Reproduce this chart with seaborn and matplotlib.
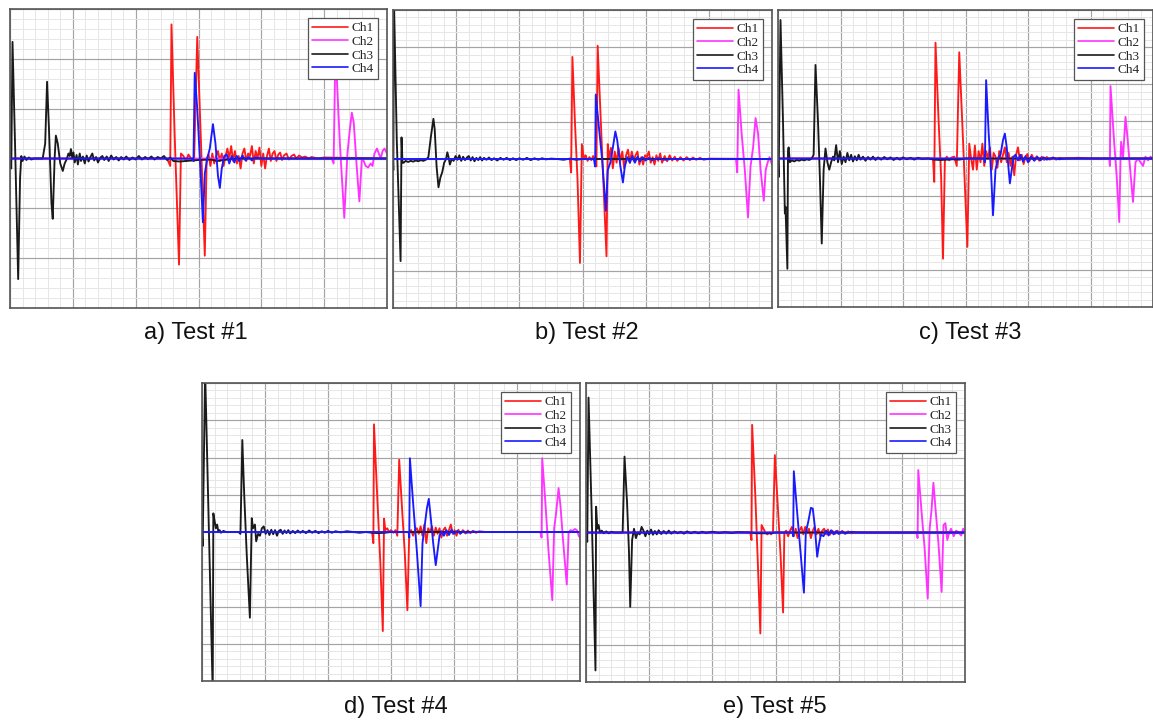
import numpy as np
import pandas as pd
import matplotlib
matplotlib.use("Agg")
import matplotlib.pyplot as plt
from matplotlib.ticker import MultipleLocator
import seaborn as sns

# ---------------------------------------------------------------------------
# Recorded signals, four channels per test.
# Time is in grid divisions (0..6), amplitude in grid divisions.
# ---------------------------------------------------------------------------
CHANNELS = ["Ch1", "Ch2", "Ch3", "Ch4"]
CHANNEL_COLORS = ["#ff1a1a", "#ff33ff", "#1a1a1a", "#1a1aff"]
CAPTIONS = ["a) Test #1", "b) Test #2", "c) Test #3", "d) Test #4", "e) Test #5"]
Y_LIMITS = [3, 4, 4, 4, 4]

# ---- Test 1 ----
T1_CH1 = [(0.0, 0.0), (2.50, 0.0), (2.55, -0.15), (2.57, 2.69), (2.62, 0.5), (2.69, -2.13),
          (2.72, 0.1), (2.76, 0.05), (2.80, -0.05), (2.84, 0.08), (2.88, 0.0), (2.93, -0.05),
          (2.98, 2.44), (3.04, 0.3), (3.10, -1.95), (3.13, 0.0), (3.16, 0.08), (3.19, -0.15),
          (3.22, 0.1), (3.25, -0.1), (3.28, 0.05), (3.31, 0.15), (3.34, -0.05), (3.37, 0.1),
          (3.40, -0.15), (3.43, 0.05), (3.46, 0.2), (3.49, 0.0), (3.52, 0.25), (3.55, -0.05),
          (3.58, 0.15), (3.61, -0.1), (3.64, 0.05), (3.67, -0.2), (3.70, 0.1), (3.73, 0.2),
          (3.76, -0.05), (3.79, 0.1), (3.82, 0.05), (3.85, 0.25), (3.88, -0.1), (3.91, 0.15),
          (3.94, 0.0), (3.97, 0.22), (4.00, -0.15), (4.03, 0.1), (4.06, -0.2), (4.09, 0.05),
          (4.12, 0.2), (4.15, -0.05), (4.18, 0.1), (4.21, 0.15), (4.24, -0.05), (4.27, 0.08),
          (4.30, 0.12), (4.33, -0.03), (4.36, 0.06), (4.40, 0.1), (4.44, -0.02), (4.48, 0.05),
          (4.52, 0.08), (4.56, 0.0), (4.60, 0.06), (4.65, 0.02), (4.70, 0.04), (4.75, 0.0),
          (4.80, 0.03), (4.90, 0.0), (5.00, 0.02), (6.0, 0.0)]
T1_CH2 = [(0.0, 0.0), (5.12, 0.0), (5.15, -0.1), (5.18, 2.2), (5.25, 0.3), (5.32, -1.19),
          (5.37, 0.1), (5.41, 0.6), (5.44, 0.92), (5.47, 0.73), (5.52, -0.2), (5.56, -0.86),
          (5.60, 0.0), (5.63, -0.05), (5.66, -0.15), (5.70, -0.18), (5.74, -0.1), (5.77, -0.15),
          (5.80, 0.1), (5.84, 0.2), (5.87, 0.1), (5.90, 0.0), (5.93, 0.15), (5.96, 0.2), (6.0, 0.1)]
T1_CH3 = [(0.0, 0.0), (0.02, -0.2), (0.04, 2.34), (0.08, 0.3), (0.13, -2.42), (0.16, -0.4),
          (0.18, 0.05), (0.20, -0.05), (0.23, 0.04), (0.26, -0.03), (0.30, 0.02), (0.34, -0.02),
          (0.38, 0.0), (0.46, 0.0), (0.52, 0.0), (0.56, 0.3), (0.59, 1.54), (0.62, 0.6),
          (0.66, -0.9), (0.68, -1.21), (0.71, 0.0), (0.73, 0.46), (0.76, 0.3), (0.80, -0.1),
          (0.84, -0.25), (0.87, -0.1), (0.90, -0.02), (0.93, 0.1), (0.95, 0.05), (0.97, 0.19),
          (0.99, 0.02), (1.01, 0.12), (1.03, -0.08), (1.06, 0.07), (1.08, -0.12), (1.11, 0.1),
          (1.13, -0.05), (1.16, 0.04), (1.19, -0.1), (1.22, 0.06), (1.25, -0.06), (1.28, 0.03),
          (1.31, 0.1), (1.34, -0.04), (1.37, 0.03), (1.40, -0.08), (1.44, 0.02), (1.47, 0.05),
          (1.50, -0.03), (1.54, 0.04), (1.57, -0.05), (1.61, 0.06), (1.65, -0.02), (1.69, 0.03),
          (1.73, -0.04), (1.77, 0.03), (1.81, -0.02), (1.85, 0.04), (1.90, -0.03), (1.95, 0.02),
          (2.00, -0.02), (2.05, 0.05), (2.10, -0.02), (2.15, 0.03), (2.20, -0.01), (2.25, 0.04),
          (2.30, -0.02), (2.35, 0.03), (2.40, 0.0), (2.45, 0.05), (2.50, -0.03), (2.55, 0.02),
          (2.60, -0.05), (2.70, -0.06), (2.80, -0.05), (2.90, -0.04), (3.00, -0.03), (3.20, -0.02),
          (3.30, -0.05), (3.40, -0.03), (3.60, 0.0), (6.0, 0.0)]
T1_CH4 = [(0.0, 0.0), (2.90, 0.0), (2.92, -0.05), (2.94, 1.72), (2.98, 1.0), (3.03, -0.2),
          (3.07, -1.28), (3.10, -0.3), (3.14, 0.0), (3.18, 0.2), (3.23, 0.69), (3.27, 0.3),
          (3.31, -0.35), (3.34, -0.59), (3.37, -0.2), (3.41, 0.05), (3.45, 0.08), (3.49, -0.1),
          (3.53, 0.05), (3.57, -0.08), (3.61, 0.05), (3.65, -0.05), (3.70, 0.06), (3.75, -0.04),
          (3.80, 0.03), (3.85, -0.04), (3.90, 0.02), (4.0, 0.0), (6.0, 0.0)]

# ---- Test 2 ----
T2_CH1 = [(0.0, 0.0), (2.80, 0.0), (2.82, -0.36), (2.84, 2.74), (2.88, 1.0), (2.92, -0.5),
          (2.96, -2.79), (2.99, 0.4), (3.02, 0.02), (3.05, 0.1), (3.08, -0.05), (3.11, 0.05),
          (3.14, -0.03), (3.17, 0.08), (3.20, -0.03), (3.22, -0.2), (3.24, 3.04), (3.30, 0.6),
          (3.38, -2.61), (3.40, 0.4), (3.42, 0.0), (3.45, 0.3), (3.48, -0.25), (3.51, 0.2),
          (3.54, -0.1), (3.57, 0.3), (3.60, -0.05), (3.63, 0.2), (3.66, -0.25), (3.69, 0.1),
          (3.72, 0.25), (3.75, -0.1), (3.78, 0.2), (3.81, -0.05), (3.84, 0.1), (3.87, 0.2),
          (3.90, -0.15), (3.93, 0.05), (3.96, -0.15), (3.99, 0.1), (4.02, 0.05), (4.05, 0.2),
          (4.08, -0.1), (4.11, 0.05), (4.14, -0.15), (4.17, 0.1), (4.20, -0.05), (4.23, 0.15),
          (4.26, -0.1), (4.30, 0.08), (4.34, -0.06), (4.38, 0.1), (4.42, -0.04), (4.46, 0.06),
          (4.50, -0.05), (4.55, 0.05), (4.60, -0.04), (4.65, 0.05), (4.70, -0.03), (4.75, 0.04),
          (4.80, -0.02), (4.86, 0.03), (4.92, -0.02), (5.00, 0.01), (6.0, 0.0)]
T2_CH2 = [(0.0, 0.0), (5.43, 0.0), (5.45, -0.36), (5.47, 1.86), (5.52, 0.67), (5.57, -0.3),
          (5.62, -1.57), (5.66, -0.2), (5.70, 0.3), (5.74, 1.1), (5.78, 0.67), (5.82, -0.3),
          (5.87, -1.12), (5.90, -0.3), (5.93, -0.1), (5.96, 0.05), (5.98, -0.05), (6.0, -0.15)]
T2_CH3 = [(0.0, 0.0), (0.005, -0.3), (0.015, 4.3), (0.06, 0.5), (0.12, -2.74), (0.135, 0.58),
          (0.15, -0.1), (0.17, -0.1), (0.20, -0.05), (0.24, -0.08), (0.28, -0.05), (0.32, -0.07),
          (0.36, -0.04), (0.40, -0.06), (0.44, -0.03), (0.48, -0.05), (0.52, -0.02), (0.56, 0.05),
          (0.60, 0.6), (0.64, 1.08), (0.66, 0.8), (0.69, -0.2), (0.72, -0.76), (0.75, -0.5),
          (0.78, -0.35), (0.81, -0.1), (0.84, 0.0), (0.86, 0.18), (0.88, 0.05), (0.90, -0.15),
          (0.93, 0.0), (0.96, -0.05), (0.99, 0.08), (1.02, -0.02), (1.05, 0.1), (1.08, -0.05),
          (1.11, 0.06), (1.14, -0.03), (1.17, 0.04), (1.20, 0.08), (1.23, -0.04), (1.26, 0.05),
          (1.29, -0.06), (1.32, 0.03), (1.35, -0.03), (1.38, 0.05), (1.41, -0.04), (1.44, 0.03),
          (1.48, -0.02), (1.52, 0.04), (1.56, -0.03), (1.60, 0.02), (1.65, -0.04), (1.70, 0.03),
          (1.75, -0.02), (1.80, 0.03), (1.85, -0.03), (1.90, 0.02), (1.95, -0.03), (2.00, 0.02),
          (2.06, -0.02), (2.12, 0.03), (2.18, -0.03), (2.24, 0.02), (2.30, -0.02), (2.36, 0.02),
          (2.42, -0.01), (2.50, 0.01), (2.60, 0.0), (2.70, -0.02), (2.80, 0.01), (2.90, -0.02),
          (3.0, 0.0), (6.0, 0.0)]
T2_CH4 = [(0.0, 0.0), (3.18, 0.0), (3.20, -0.2), (3.21, 1.73), (3.26, 0.85), (3.31, 0.0),
          (3.37, -1.39), (3.40, -0.3), (3.44, -0.1), (3.48, 0.3), (3.52, 0.74), (3.55, 0.5),
          (3.60, -0.2), (3.64, -0.63), (3.67, -0.2), (3.71, 0.05), (3.75, -0.1), (3.79, 0.08),
          (3.83, -0.1), (3.87, 0.06), (3.91, -0.06), (3.95, 0.05), (4.00, -0.04), (4.05, 0.03),
          (4.10, -0.03), (4.20, 0.02), (4.30, -0.02), (4.40, 0.0), (6.0, 0.0)]

# ---- Test 3 ----
T3_CH1 = [(0.0, 0.0), (2.48, 0.0), (2.50, -0.63), (2.52, 3.12), (2.57, 1.0), (2.61, -0.5),
          (2.64, -2.70), (2.67, -0.05), (2.70, 0.05), (2.74, -0.05), (2.78, 0.03), (2.82, 0.05),
          (2.86, -0.2), (2.90, 2.86), (2.96, 0.5), (3.03, -2.38), (3.06, 0.4), (3.09, 0.0),
          (3.12, -0.3), (3.15, 0.35), (3.18, -0.3), (3.21, 0.2), (3.24, -0.1), (3.27, 0.4),
          (3.30, -0.2), (3.33, 0.2), (3.36, 0.0), (3.39, 0.3), (3.42, -0.3), (3.45, 0.15),
          (3.48, 0.05), (3.51, -0.25), (3.54, 0.2), (3.57, -0.1), (3.60, 0.1), (3.63, 0.3),
          (3.66, -0.1), (3.69, 0.15), (3.72, -0.2), (3.75, 0.05), (3.78, -0.45), (3.81, 0.1),
          (3.84, 0.3), (3.87, -0.05), (3.90, 0.1), (3.93, -0.15), (3.96, 0.05), (3.99, 0.12),
          (4.02, -0.08), (4.06, 0.1), (4.10, -0.05), (4.14, 0.06), (4.18, -0.06), (4.22, 0.05),
          (4.26, -0.04), (4.30, 0.04), (4.35, -0.03), (4.40, 0.03), (4.45, -0.03), (4.50, 0.02),
          (4.60, 0.0), (4.80, 0.02), (5.00, 0.0), (6.0, 0.0)]
T3_CH2 = [(0.0, 0.0), (5.30, 0.0), (5.31, -0.2), (5.32, 1.95), (5.38, 0.4), (5.42, -0.5),
          (5.46, -1.71), (5.48, 0.0), (5.49, 0.45), (5.52, 0.0), (5.56, 1.12), (5.59, 0.6),
          (5.63, -0.2), (5.68, -1.17), (5.72, -0.1), (5.76, 0.0), (5.80, -0.1), (5.84, -0.2),
          (5.88, 0.05), (5.92, -0.05), (5.96, 0.05), (6.0, 0.0)]
T3_CH3 = [(0.0, 0.0), (0.01, -0.5), (0.04, 3.73), (0.08, 1.0), (0.11, -1.48), (0.12, -1.3),
          (0.15, -2.97), (0.16, 0.2), (0.17, 0.3), (0.19, -0.1), (0.22, -0.05), (0.26, -0.08),
          (0.30, -0.04), (0.34, -0.06), (0.38, -0.03), (0.42, -0.05), (0.46, -0.02), (0.50, -0.04),
          (0.54, 0.0), (0.57, 0.1), (0.60, 2.52), (0.64, 1.0), (0.67, -0.5), (0.70, -2.29),
          (0.73, -0.3), (0.76, 0.27), (0.79, -0.1), (0.82, -0.3), (0.85, -0.1), (0.88, 0.05),
          (0.90, -0.05), (0.93, 0.36), (0.96, -0.1), (0.99, 0.2), (1.02, -0.15), (1.05, 0.05),
          (1.08, -0.1), (1.11, 0.15), (1.14, -0.05), (1.17, 0.1), (1.20, -0.08), (1.23, 0.06),
          (1.26, -0.05), (1.29, 0.1), (1.32, -0.03), (1.36, 0.05), (1.40, -0.06), (1.44, 0.04),
          (1.48, -0.03), (1.52, 0.05), (1.56, -0.04), (1.60, 0.03), (1.65, -0.03), (1.70, 0.04),
          (1.75, -0.02), (1.80, 0.03), (1.85, -0.04), (1.90, 0.02), (1.95, -0.03), (2.00, 0.03),
          (2.06, -0.02), (2.12, 0.02), (2.18, -0.03), (2.24, 0.02), (2.30, -0.01), (2.40, 0.0),
          (2.50, -0.03), (2.60, -0.04), (2.70, -0.03), (2.80, -0.02), (2.90, -0.03), (3.0, 0.0),
          (6.0, 0.0)]
T3_CH4 = [(0.0, 0.0), (3.30, 0.0), (3.31, -0.1), (3.33, 2.11), (3.37, 0.7), (3.41, -0.4),
          (3.44, -1.53), (3.48, -0.3), (3.52, 0.0), (3.56, 0.1), (3.60, 0.5), (3.63, 0.67),
          (3.66, 0.3), (3.69, -0.3), (3.71, -0.67), (3.74, -0.3), (3.77, 0.05), (3.80, 0.1),
          (3.84, -0.05), (3.88, 0.1), (3.92, -0.08), (3.96, 0.06), (4.00, -0.1), (4.05, 0.05),
          (4.10, -0.06), (4.15, 0.04), (4.20, -0.05), (4.25, 0.03), (4.30, -0.03), (4.40, 0.02),
          (4.50, -0.02), (4.60, 0.0), (6.0, 0.0)]

# ---- Test 4 ----
T4_CH1 = [(0.0, 0.0), (2.70, 0.0), (2.72, -0.3), (2.73, 2.89), (2.78, 1.0), (2.83, -0.8),
          (2.87, -2.66), (2.89, 0.36), (2.91, 0.05), (2.94, 0.1), (2.97, 0.0), (3.00, 0.05),
          (3.04, -0.02), (3.07, 0.05), (3.10, -0.1), (3.13, 1.94), (3.18, 0.5), (3.22, -0.6),
          (3.26, -2.1), (3.29, 0.0), (3.32, 0.05), (3.35, -0.1), (3.38, 0.05), (3.41, 0.1),
          (3.44, -0.05), (3.47, 0.15), (3.50, -0.1), (3.53, 0.2), (3.56, -0.3), (3.59, 0.1),
          (3.62, 0.0), (3.65, 0.15), (3.68, -0.1), (3.71, 0.12), (3.74, -0.05), (3.77, 0.1),
          (3.80, -0.15), (3.83, 0.05), (3.86, 0.12), (3.89, -0.1), (3.92, 0.05), (3.95, 0.2),
          (3.98, -0.05), (4.01, 0.05), (4.04, -0.1), (4.07, 0.06), (4.10, -0.05), (4.14, 0.05),
          (4.18, -0.04), (4.22, 0.04), (4.26, -0.03), (4.30, 0.03), (4.35, -0.02), (4.40, 0.02),
          (4.50, 0.0), (6.0, 0.0)]
T4_CH2 = [(0.0, 0.0), (5.37, 0.0), (5.39, -0.15), (5.40, 1.98), (5.45, 0.8), (5.50, -0.5),
          (5.56, -1.83), (5.59, 0.1), (5.62, 0.5), (5.66, 1.18), (5.69, 0.7), (5.73, -0.2),
          (5.79, -1.41), (5.82, 0.0), (5.85, 0.05), (5.88, 0.03), (5.92, 0.08), (5.95, 0.05),
          (5.98, -0.1), (6.0, -0.15)]
T4_CH3 = [(0.0, 0.0), (0.01, -0.38), (0.05, 4.3), (0.17, -4.3), (0.18, 0.5), (0.20, 0.3),
          (0.22, 0.1), (0.24, 0.2), (0.26, 0.0), (0.28, 0.05), (0.30, -0.02), (0.34, 0.03),
          (0.38, 0.0), (0.50, 0.0), (0.58, 0.0), (0.61, -0.05), (0.64, 2.47), (0.67, 1.0),
          (0.71, -0.6), (0.76, -2.3), (0.79, 0.37), (0.81, 0.1), (0.84, 0.2), (0.86, -0.25),
          (0.89, -0.05), (0.92, -0.1), (0.95, 0.1), (0.98, 0.15), (1.01, -0.05), (1.04, 0.05),
          (1.07, -0.08), (1.10, 0.06), (1.13, -0.06), (1.16, 0.05), (1.19, -0.1), (1.22, 0.03),
          (1.25, 0.06), (1.28, -0.05), (1.31, 0.04), (1.34, -0.03), (1.37, 0.05), (1.40, -0.04),
          (1.44, 0.03), (1.48, -0.03), (1.52, 0.04), (1.56, -0.02), (1.60, 0.03), (1.65, -0.03),
          (1.70, 0.04), (1.75, -0.02), (1.80, 0.03), (1.85, -0.03), (1.90, 0.02), (1.95, -0.02),
          (2.00, 0.03), (2.06, -0.02), (2.12, 0.02), (2.20, -0.01), (2.30, 0.02), (2.40, 0.0),
          (2.50, -0.02), (2.60, 0.0), (2.70, -0.02), (2.80, -0.03), (2.90, -0.02), (3.0, 0.0),
          (6.0, 0.0)]
T4_CH4 = [(0.0, 0.0), (3.28, 0.0), (3.29, -0.15), (3.30, 1.98), (3.35, 0.8), (3.41, -0.5),
          (3.47, -1.99), (3.50, -0.3), (3.53, 0.1), (3.57, 0.64), (3.60, 0.89), (3.63, 0.4),
          (3.67, -0.3), (3.71, -0.89), (3.74, -0.5), (3.77, -0.1), (3.80, 0.02), (3.84, -0.1),
          (3.88, 0.05), (3.92, -0.08), (3.96, 0.06), (4.00, -0.05), (4.05, 0.03), (4.10, -0.04),
          (4.15, 0.02), (4.20, -0.02), (4.30, 0.01), (4.40, 0.0), (6.0, 0.0)]

# ---- Test 5 ----
T5_CH1 = [(0.0, 0.0), (2.60, 0.0), (2.62, -0.2), (2.63, 2.88), (2.68, 1.0), (2.72, -0.8),
          (2.76, -2.70), (2.78, 0.2), (2.81, 0.1), (2.84, 0.0), (2.87, -0.05), (2.90, 0.0),
          (2.93, -0.05), (2.96, 0.0), (2.99, 2.07), (3.04, 0.6), (3.08, -0.6), (3.12, -2.14),
          (3.14, 0.0), (3.17, 0.05), (3.20, -0.1), (3.23, 0.05), (3.26, 0.15), (3.29, -0.1),
          (3.32, 0.1), (3.35, -0.15), (3.38, 0.05), (3.41, 0.15), (3.44, -0.05), (3.47, 0.15),
          (3.50, 0.0), (3.53, 0.1), (3.56, -0.15), (3.59, 0.05), (3.62, 0.15), (3.65, -0.05),
          (3.68, 0.1), (3.71, -0.1), (3.74, 0.05), (3.77, 0.1), (3.80, -0.05), (3.83, 0.08),
          (3.86, -0.06), (3.90, 0.05), (3.94, -0.04), (3.98, 0.05), (4.02, -0.03), (4.06, 0.04),
          (4.10, -0.03), (4.15, 0.03), (4.20, -0.02), (4.30, 0.01), (4.50, 0.0), (6.0, 0.0)]
T5_CH2 = [(0.0, 0.0), (5.23, 0.0), (5.25, -0.15), (5.26, 1.67), (5.31, 0.6), (5.36, -0.4),
          (5.41, -1.77), (5.44, 0.1), (5.47, 0.6), (5.50, 1.33), (5.53, 0.7), (5.58, -0.3),
          (5.63, -1.59), (5.66, 0.2), (5.69, 0.25), (5.72, -0.2), (5.75, 0.0), (5.78, 0.1),
          (5.82, -0.1), (5.86, 0.05), (5.90, 0.0), (5.94, -0.08), (5.97, 0.1), (6.0, 0.0)]
T5_CH3 = [(0.0, 0.0), (0.02, -0.25), (0.04, 3.61), (0.09, 0.5), (0.15, -3.69), (0.16, 0.69),
          (0.18, 0.1), (0.20, 0.2), (0.22, 0.0), (0.25, 0.05), (0.28, -0.02), (0.32, 0.03),
          (0.36, -0.02), (0.40, 0.02), (0.45, 0.0), (0.52, 0.0), (0.58, 0.0), (0.61, 2.03),
          (0.65, 0.8), (0.68, -0.5), (0.70, -1.99), (0.73, -0.2), (0.76, 0.1), (0.79, -0.15),
          (0.82, 0.0), (0.85, -0.05), (0.88, 0.15), (0.91, 0.05), (0.94, -0.1), (0.97, 0.05),
          (1.00, -0.05), (1.03, 0.08), (1.06, -0.06), (1.09, 0.04), (1.12, -0.05), (1.15, 0.06),
          (1.19, -0.04), (1.23, 0.04), (1.27, -0.03), (1.31, 0.05), (1.35, -0.03), (1.40, 0.03),
          (1.45, -0.02), (1.50, 0.02), (1.55, -0.03), (1.60, 0.03), (1.66, -0.02), (1.72, 0.02),
          (1.78, -0.02), (1.84, 0.02), (1.90, -0.01), (2.00, 0.02), (2.10, -0.01), (2.20, 0.01),
          (2.30, -0.01), (2.40, 0.01), (2.60, 0.0), (2.70, -0.02), (2.90, -0.02), (3.0, 0.0),
          (6.0, 0.0)]
T5_CH4 = [(0.0, 0.0), (3.27, 0.0), (3.28, -0.1), (3.29, 1.64), (3.34, 0.6), (3.40, -0.6),
          (3.45, -1.61), (3.48, 0.0), (3.52, 0.3), (3.56, 0.66), (3.59, 0.64), (3.62, 0.2),
          (3.66, -0.65), (3.69, -0.3), (3.72, -0.05), (3.76, -0.1), (3.80, 0.05), (3.84, -0.08),
          (3.88, 0.06), (3.92, -0.05), (3.96, 0.04), (4.00, -0.04), (4.05, 0.03), (4.10, -0.03),
          (4.20, 0.02), (4.30, 0.0), (6.0, 0.0)]

TESTS = [
    [T1_CH1, T1_CH2, T1_CH3, T1_CH4],
    [T2_CH1, T2_CH2, T2_CH3, T2_CH4],
    [T3_CH1, T3_CH2, T3_CH3, T3_CH4],
    [T4_CH1, T4_CH2, T4_CH3, T4_CH4],
    [T5_CH1, T5_CH2, T5_CH3, T5_CH4],
]

# Panel frames in pixels: (left, top, right, bottom) and caption centres (x, y)
W, H = 1153, 722
PANEL_BOXES = [(10, 9, 387, 308), (393, 10, 772, 308), (778, 10, 1153, 307),
               (202, 383, 580, 681), (586, 383, 965, 682)]
CAPTION_POS = [(196, 333), (587, 333), (970, 333), (396, 707), (775, 707)]

sns.set_style("white")
fig = plt.figure(figsize=(W / 100, H / 100), dpi=100)
fig.patch.set_facecolor("white")

palette = dict(zip(CHANNELS, CHANNEL_COLORS))

for series, box, ylim, caption, cpos in zip(TESTS, PANEL_BOXES, Y_LIMITS, CAPTIONS, CAPTION_POS):
    l, t, r, b = box
    ax = fig.add_axes([l / W, 1 - b / H, (r - l) / W, (b - t) / H])

    frames = []
    for name, pts in zip(CHANNELS, series):
        arr = np.array(pts)
        frames.append(pd.DataFrame({"t": arr[:, 0], "v": arr[:, 1], "channel": name}))
    df = pd.concat(frames, ignore_index=True)

    sns.lineplot(data=df, x="t", y="v", hue="channel", hue_order=CHANNELS, palette=palette,
                 estimator=None, sort=False, linewidth=1.35, ax=ax, legend=False)

    ax.set_xlim(0, 6)
    ax.set_ylim(-ylim, ylim)
    ax.xaxis.set_major_locator(MultipleLocator(1))
    ax.xaxis.set_minor_locator(MultipleLocator(0.2))
    ax.yaxis.set_major_locator(MultipleLocator(1))
    ax.yaxis.set_minor_locator(MultipleLocator(0.2))
    ax.grid(which="major", color="#a4a4a4", linewidth=0.85)
    ax.grid(which="minor", color="#e6e6e6", linewidth=0.7)
    ax.set_axisbelow(True)
    ax.tick_params(which="both", length=0, labelleft=False, labelbottom=False)
    ax.set_xlabel("")
    ax.set_ylabel("")
    for sp in ax.spines.values():
        sp.set_visible(True)
        sp.set_color("#555555")
        sp.set_linewidth(1.2)

    handles = [plt.Line2D([], [], color=c, linewidth=1.2) for c in CHANNEL_COLORS]
    leg = ax.legend(handles, CHANNELS, loc="upper right", fancybox=False, framealpha=1,
                    edgecolor="#555555", prop={"family": "Liberation Serif", "size": 9.5},
                    handlelength=2.7, handletextpad=0.3, labelspacing=0.1,
                    borderpad=0.3, borderaxespad=0.7)
    leg.get_frame().set_linewidth(0.9)

    fig.text(cpos[0] / W, 1 - cpos[1] / H, caption, ha="center", va="center",
             fontsize=17, family="Liberation Sans", color="#111111")

fig.savefig("out.png", dpi=100, facecolor="white")
